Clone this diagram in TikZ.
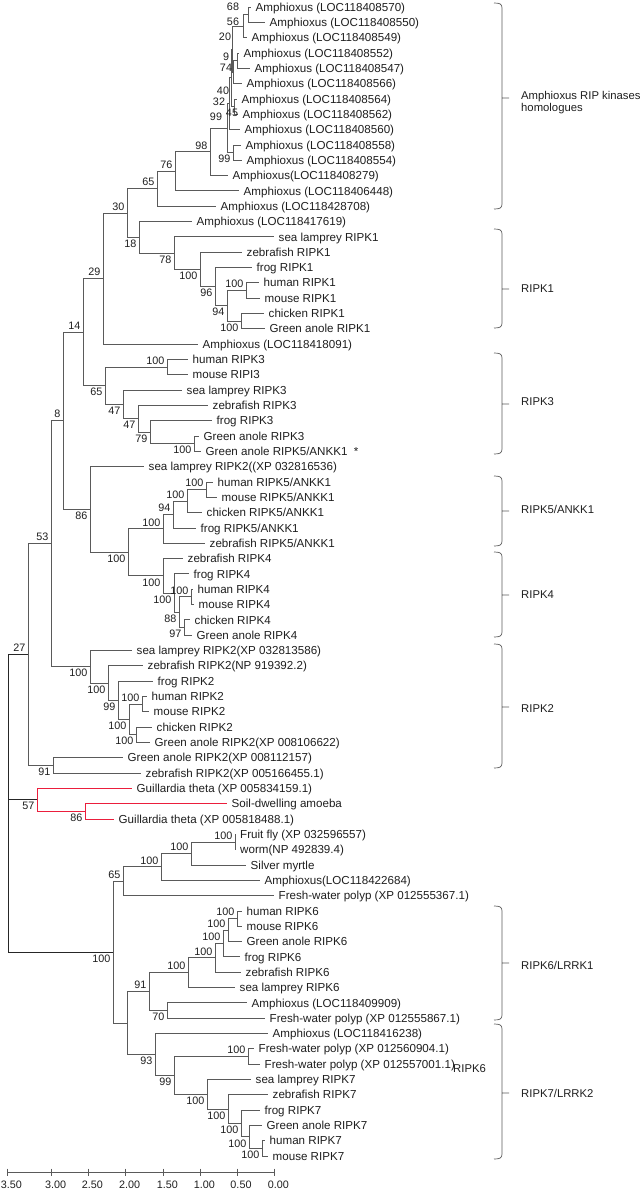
\documentclass[tikz,border=0pt]{standalone}
\usepackage{fontspec}
\setmainfont{Liberation Sans}
\usepackage{tikz}
\usetikzlibrary{calc}
\usetikzlibrary{math}

\definecolor{treegray}{RGB}{90,90,90}
\definecolor{textgray}{RGB}{30,30,30}
\definecolor{protred}{RGB}{235,30,60}

%% 连接两个子节点, 父节点的 y 取两者中点
\newcommand{\jn}[5][]{%
  \path let \p1=(#4), \p2=(#5) in coordinate (#2) at (#3,{0.5*(\y1+\y2)});
  \draw[branch,#1] (#2) |- (#4);
  \draw[branch,#1] (#2) |- (#5);
}

\begin{document}
\begin{tikzpicture}[x=1pt,y=-1pt,
    branch/.style={treegray,line width=0.75pt},
    redbranch/.style={draw=protred,line width=0.85pt},
    leaf/.style={textgray,anchor=base west,inner sep=0pt,xshift=4.5pt,yshift=-4.2pt,
      font=\fontsize{11.6}{13}\selectfont},
    bs/.style={textgray,inner sep=2.5pt,font=\fontsize{10.8}{12}\selectfont},
    grouplab/.style={textgray,anchor=west,align=left,inner sep=2pt,
      font=\fontsize{11.3}{11.8}\selectfont},
    brace/.style={treegray,line width=0.7pt},
    axis/.style={treegray,line width=0.7pt}]
    \useasboundingbox (0,0) rectangle (643,1191);
    \tikzmath{\ytop = 7; \dy = 15.32;}
    %% 叶子
    \foreach \i/\tx/\txt in {
        1/251/{Amphioxus (LOC118408570)}, 2/265/{Amphioxus (LOC118408550)},
        3/247/{Amphioxus (LOC118408549)}, 4/239/{Amphioxus (LOC118408552)},
        5/250/{Amphioxus (LOC118408547)}, 6/242/{Amphioxus (LOC118408566)},
        7/237/{Amphioxus (LOC118408564)}, 8/238/{Amphioxus (LOC118408562)},
        9/240/{Amphioxus (LOC118408560)}, 10/241/{Amphioxus (LOC118408558)},
        11/242/{Amphioxus (LOC118408554)}, 12/228/{Amphioxus(LOC118408279)},
        13/239/{Amphioxus (LOC118406448)}, 14/216/{Amphioxus (LOC118428708)},
        15/192/{Amphioxus (LOC118417619)}, 16/274/{sea lamprey RIPK1},
        17/242/{zebrafish RIPK1}, 18/252/{frog RIPK1},
        19/259/{human RIPK1}, 20/260/{mouse RIPK1},
        21/264/{chicken RIPK1}, 22/265/{Green anole RIPK1},
        23/198/{Amphioxus (LOC118418091)}, 24/188/{human RIPK3},
        25/188/{mouse RIPI3}, 26/182/{sea lamprey RIPK3},
        27/208/{zebrafish RIPK3}, 28/212/{frog RIPK3},
        29/199/{Green anole RIPK3}, 30/201/{Green anole RIPK5/ANKK1~~*},
        31/144/{sea lamprey RIPK2((XP 032816536)}, 32/213/{human RIPK5/ANKK1},
        33/217/{mouse RIPK5/ANKK1}, 34/202/{chicken RIPK5/ANKK1},
        35/196/{frog RIPK5/ANKK1}, 36/205/{zebrafish RIPK5/ANKK1},
        37/183/{zebrafish RIPK4}, 38/189/{frog RIPK4},
        39/193/{human RIPK4}, 40/194/{mouse RIPK4},
        41/190/{chicken RIPK4}, 42/192/{Green anole RIPK4},
        43/132/{sea lamprey RIPK2(XP 032813586)}, 44/143/{zebrafish RIPK2(NP 919392.2)},
        45/153/{frog RIPK2}, 46/147/{human RIPK2},
        47/149/{mouse RIPK2}, 48/152/{chicken RIPK2},
        49/150/{Green anole RIPK2(XP 008106622)}, 50/123/{Green anole RIPK2(XP 008112157)},
        51/141/{zebrafish RIPK2(XP 005166455.1)}, 52/132/{Guillardia theta (XP 005834159.1)},
        53/227/{Soil-dwelling amoeba}, 54/114/{Guillardia theta (XP 005818488.1)},
        55/235.5/{Fruit fly (XP 032596557)}, 56/235.5/{worm(NP 492839.4)},
        57/246/{Silver myrtle}, 58/260/{Amphioxus(LOC118422684)},
        59/274/{Fresh-water polyp (XP 012555367.1)}, 60/242/{human RIPK6},
        61/242/{mouse RIPK6}, 62/242/{Green anole RIPK6},
        63/240/{frog RIPK6}, 64/241/{zebrafish RIPK6},
        65/235/{sea lamprey RIPK6}, 66/247/{Amphioxus (LOC118409909)},
        67/265/{Fresh-water polyp (XP 012555867.1)}, 68/268/{Amphioxus (LOC118416238)},
        69/254/{Fresh-water polyp (XP 012560904.1)}, 70/260/{Fresh-water polyp (XP 012557001.1)},
        71/251/{sea lamprey RIPK7}, 72/268/{zebrafish RIPK7},
        73/260/{frog RIPK7}, 74/262/{Green anole RIPK7},
        75/265/{human RIPK7}, 76/268/{mouse RIPK7}}{
        \coordinate (l\i) at (\tx,{\ytop+\dy*(\i-1)});
        \node[leaf] (t\i) at (l\i) {\txt};
    }
    %% 顶部 Amphioxus 分支
    \jn{n68a}{248}{l1}{l2}
    \jn{n56a}{243}{n68a}{l3}
    \jn{n74a}{237}{l4}{l5}
    \jn{n9a}{233}{n74a}{l6}
    \jn{n20a}{232}{n56a}{n9a}
    \jn{n45a}{234}{l7}{l8}
    \jn{n40a}{231}{n20a}{n45a}
    \jn{n32a}{229}{n40a}{l9}
    \jn{n99b}{233}{l10}{l11}
    \jn{n99a}{227}{n32a}{n99b}
    \jn{n98}{210}{n99a}{l12}
    \jn{n76}{175}{n98}{l13}
    \jn{n65a}{157}{n76}{l14}
    %% RIPK1
    \jn{n100e}{246}{l19}{l20}
    \jn{n100f}{241}{l21}{l22}
    \jn{n94a}{227}{n100e}{n100f}
    \jn{n96}{215}{l18}{n94a}
    \jn{n100d}{200}{l17}{n96}
    \jn{n78}{174}{l16}{n100d}
    \jn{n18}{139}{l15}{n78}
    \jn{n30}{127}{n65a}{n18}
    \jn{n29}{103}{n30}{l23}
    %% RIPK3
    \jn{n100k3}{167}{l24}{l25}
    \jn{n100c}{194}{l29}{l30}
    \jn{n79}{150}{l28}{n100c}
    \jn{n47b}{138}{l27}{n79}
    \jn{n47a}{123}{l26}{n47b}
    \jn{n65b}{105}{n100k3}{n47a}
    \jn{n14}{83}{n29}{n65b}
    %% RIPK5/ANKK1, RIPK4
    \jn{n100k}{206}{l32}{l33}
    \jn{n100j}{187}{n100k}{l34}
    \jn{n94b}{173}{n100j}{l35}
    \jn{n100h}{163}{n94b}{l36}
    \jn{n100m}{191}{l39}{l40}
    \jn{n97}{184}{l41}{l42}
    \jn{n88}{179}{n100m}{n97}
    \jn{n100l}{174}{l38}{n88}
    \jn{n100i}{163}{l37}{n100l}
    \jn{n100g}{128}{n100h}{n100i}
    \jn{n86}{90}{l31}{n100g}
    \jn{n8}{63}{n14}{n86}
    %% RIPK2
    \jn{n100q}{142}{l46}{l47}
    \jn{n100r}{136}{l48}{l49}
    \jn{n100p}{129}{n100q}{n100r}
    \jn{n99}{118}{l45}{n100p}
    \jn{n100o}{108}{l44}{n99}
    \jn{n100n}{90}{l43}{n100o}
    \jn{n53}{51}{n8}{n100n}
    \jn{n91}{53}{l50}{l51}
    \jn{n27}{28}{n53}{n91}
    %% 底部 RIPK6 / RIPK7
    \jn{n100v}{235}{l55}{l56}
    \jn{n100u}{191}{n100v}{l57}
    \jn{n100t}{161}{n100u}{l58}
    \jn{n65c}{123}{n100t}{l59}
    \jn{n100aa}{237}{l60}{l61}
    \jn{n100z}{228}{n100aa}{l62}
    \jn{n100y}{223}{n100z}{l63}
    \jn{n100x}{215}{n100y}{l64}
    \jn{n100w}{188}{n100x}{l65}
    \jn{n70}{167}{l66}{l67}
    \jn{n91b}{149}{n100w}{n70}
    \jn{n100bb}{248}{l69}{l70}
    \jn{n100gg}{262}{l75}{l76}
    \jn{n100ff}{249}{l74}{n100gg}
    \jn{n100ee}{241}{l73}{n100ff}
    \jn{n100dd}{228}{l72}{n100ee}
    \jn{n100cc}{207}{l71}{n100dd}
    \jn{n99c}{174}{n100bb}{n100cc}
    \jn{n93}{155}{l68}{n99c}
    \jn{n68b}{127}{n91b}{n93}
    \jn{n100s}{113}{n65c}{n68b}
    %% 红色分支
    \jn[redbranch]{n86r}{85}{l53}{l54}
    \jn[redbranch]{n57}{37}{l52}{n86r}
    %% 根
    \coordinate (root) at (8,803);
    \draw[branch,black!85] (root) |- (n27) (root) |- (n100s);
    \draw[branch,black!85] (root) |- (n57);
    %% 支持率
    \foreach \n/\v in {n98/98, n76/76, n65a/65, n30/30, n100e/100, n29/29, n14/14,
        n100k3/100, n8/8, n100h/100, n94b/94, n100j/100, n100k/100, n100m/100,
        n53/53, n100q/100, n27/27, n65c/65, n100t/100, n100u/100, n100v/100,
        n91b/91, n100w/100, n100x/100, n100y/100, n100z/100, n100aa/100, n100bb/100}
        \node[bs,above left] (b\n) at (\n) {\v};
    \foreach \n/\v in {n99b/99, n18/18, n78/78, n100d/100, n96/96, n94a/94, n100f/100,
        n65b/65, n47a/47, n47b/47, n79/79, n100c/100, n86/86, n100g/100, n100i/100,
        n100l/100, n88/88, n97/97, n100n/100, n100o/100, n99/99, n100p/100, n100r/100,
        n91/91, n57/57, n86r/86, n100s/100, n70/70, n93/93, n99c/99, n100cc/100,
        n100dd/100, n100ee/100, n100ff/100, n100gg/100}
        \node[bs,below left] (b\n) at (\n) {\v};
    %% 密集处直接给坐标
    \foreach \n/\v/\bx/\by in {n68a/68/233/7, n56a/56/233/22, n20a/20/225/37,
        n9a/9/226/57, n74a/74/226/68, n40a/40/223/91, n32a/32/219/102,
        n45a/45/232/113, n99a/99/216/117}
        \node[bs] (b\n) at (\bx,\by) {\v};
    %% 右侧括号
    \foreach \ya/\ym/\yb/\yl/\txt [count=\k] in {
        3/98/209/102.5/{Amphioxus RIP kinases\\homologues},
        229/289/328/289/{RIPK1}, 353/404/454/402/{RIPK3},
        476/511/546/509/{RIPK5/ANKK1}, 552/595/637/595/{RIPK4},
        644/707/768/709/{RIPK2}, 906/963/1020/965/{RIPK6/LRRK1},
        1024/1093/1159/1093/{RIPK7/LRRK2}}{
        \draw[brace] (494,\ya) .. controls (500,\ya) and (502,\ya+1) .. (502,\ya+5)
            -- (502,\yb-5) .. controls (502,\yb-1) and (500,\yb) .. (494,\yb)
            (502,\ym) -- (509,\ym);
        \node[grouplab] (g\k) at (519,\yl) {\txt};
    }
    \node[grouplab] (extra6) at (451,1069) {RIPK6};
    %% 标尺
    \coordinate (ax0) at (7.3,1172);
    \coordinate (ax1) at (274.3,1172);
    \draw[axis] (ax0) -- (ax1);
    \foreach \tx/\tl [count=\k] in {7.3/3.50, 51.7/3.00, 88.3/2.50, 125.7/2.00,
        163.3/1.50, 200.3/1.00, 237/0.50, 274.3/0.00}{
        \draw[axis] (\tx,1168.5) -- (\tx,1176);
        \node[bs,inner sep=0pt] (s\k) at (\tx+4,1185) {\tl};
    }
\end{tikzpicture}
\end{document}
